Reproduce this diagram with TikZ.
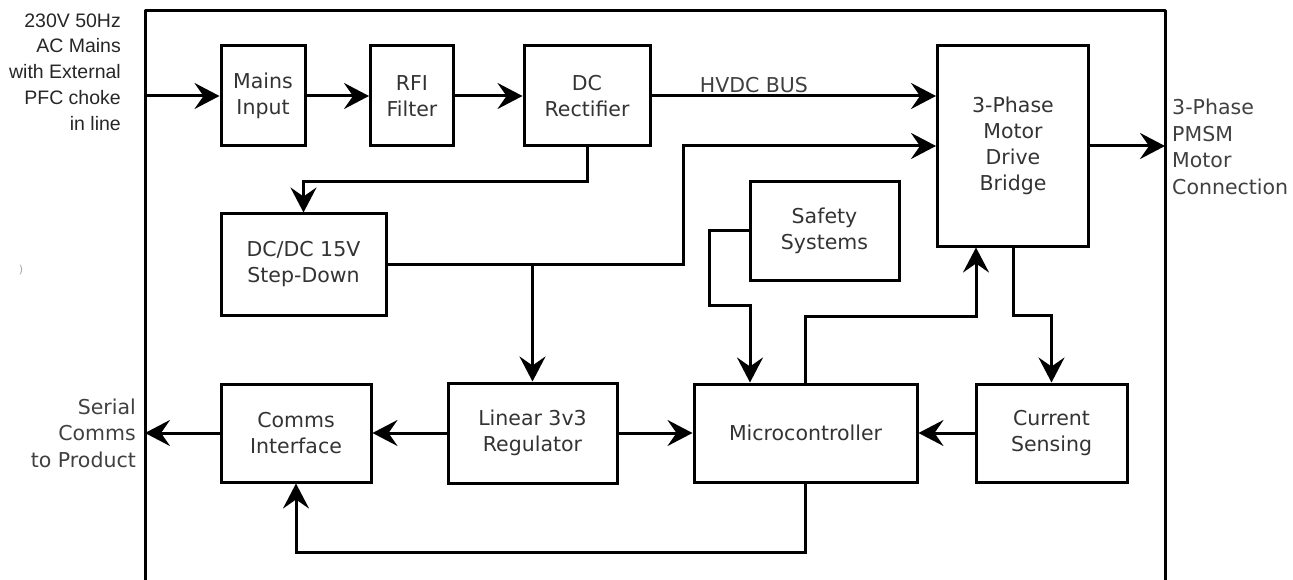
\documentclass[tikz,border=0pt]{standalone}
\usepackage{fontspec}
\setmainfont{DejaVu Sans}
\newfontfamily\arialfont{Liberation Sans}
\usetikzlibrary{arrows.meta,positioning}

\tikzset{
  block/.style={draw,line width=3pt,align=center,inner sep=0pt,text=black!80,
    font=\fontsize{20.5}{26}\selectfont},
  arr/.style={line width=3pt,-{Stealth[length=25pt,width=26pt,inset=9pt]}},
  wire/.style={line width=3pt},
  lbl/.style={text=black!75,inner sep=0pt,font=\fontsize{20.5}{26.5}\selectfont}
}

\begin{document}
\begin{tikzpicture}[x=1pt,y=-1pt]
\useasboundingbox (0,0) rectangle (1293,580);
% outer frame
\draw[wire,line join=round] (145,580) -- (145,11) -- (1165,11) -- (1165,580);
% blocks
\node[block,minimum width=84,minimum height=100] (mains) at (263,96) {Mains\\Input};
\node[block,minimum width=83,minimum height=100] (rfi) at (412,96) {RFI\\Filter};
\node[block,minimum width=126,minimum height=100] (rect) at (587,96) {DC\\Rectifier};
\node[block,minimum width=151,minimum height=200] (bridge) at (1013,146) {3-Phase\\Motor\\Drive\\Bridge};
\node[block,minimum width=165,minimum height=101] (dcdc) at (303.5,264.5) {DC/DC 15V\\Step-Down};
\node[block,minimum width=149,minimum height=98] (safety) at (824.5,231) {Safety\\Systems};
\node[block,minimum width=150,minimum height=98] (comms) at (296,433) {Comms\\Interface};
\node[block,minimum width=169,minimum height=100] (linear) at (532.5,433) {Linear 3v3\\Regulator};
\node[block,minimum width=223,minimum height=98] (micro) at (805.5,433) {Microcontroller};
\node[block,minimum width=151,minimum height=98] (current) at (1051.5,433) {Current\\Sensing};
% outside labels
\node[anchor=east,align=right,inner sep=0pt,text=black!85,
  font=\arialfont\fontsize{19.5}{25.8}\selectfont] (mainsin) at (121,72)
  {230V 50Hz\\AC Mains\\with External\\PFC choke\\in line};
\node[lbl,anchor=west,align=left] (motor) at (1172,147) {3-Phase\\PMSM\\Motor\\Connection};
\node[lbl,anchor=east,align=right] (serial) at (136,433) {Serial\\Comms\\to Product};
\node[text=black!35,inner sep=0pt,font=\fontsize{11}{11}\selectfont] (stray) at (21,270) {)};
\coordinate (fin) at (145,96);
\coordinate (fout) at (145,433);
\coordinate (mout) at (1165,146);
% connectors
\draw[arr] (fin) -- (mains);
\draw[arr] (mains) -- (rfi);
\draw[arr] (rfi) -- (rect);
\draw[arr] (rect.east) -- node[lbl,pos=.36,above=2pt] {HVDC BUS} (rect.east -| bridge.west);
\draw[arr] (bridge.east) -- (mout);
\draw[arr] (rect.south) -- ++(0,34) -| (dcdc.north);
\draw[arr] (dcdc.east) -- (683,264.5) |- (bridge.west);
\draw[arr] (linear.north |- dcdc.east) -- (linear.north);
\draw[arr] (safety.west) -| (709,305) -| ([xshift=-55.5]micro.north);
\draw[arr] (micro.north) |- (976,316) -- ([xshift=-37]bridge.south);
\draw[arr] (bridge.south) -- ++(0,68) -| (current.north);
\draw[arr] (current) -- (micro);
\draw[arr] (linear) -- (micro);
\draw[arr] (linear) -- (comms);
\draw[arr] (comms) -- (fout);
\draw[arr] (micro.south) -- ++(0,69) -| (comms.south);
\end{tikzpicture}
\end{document}
